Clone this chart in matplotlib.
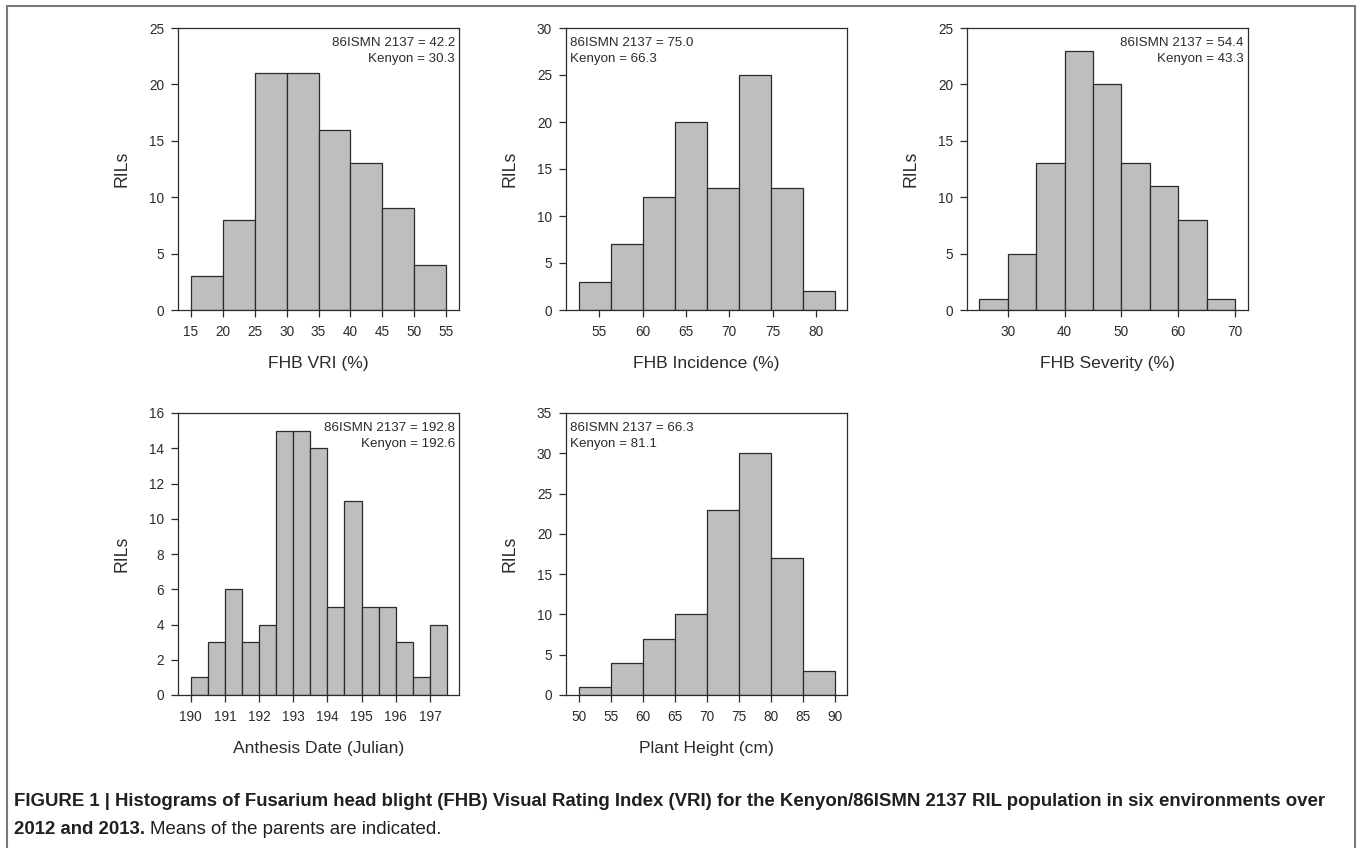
import numpy as np
import matplotlib
matplotlib.use("Agg")
import matplotlib.pyplot as plt
from matplotlib.patches import Rectangle

plt.rcParams['font.family'] = ['Liberation Sans', 'DejaVu Sans']

# histogram data (bin edges + counts per bin)
vri_edges = [15, 20, 25, 30, 35, 40, 45, 50, 55]
vri_counts = [3, 8, 21, 21, 16, 13, 9, 4]

inc_edges = [52.6, 56.3, 60.0, 63.7, 67.4, 71.1, 74.8, 78.5, 82.2]
inc_counts = [3, 7, 12, 20, 13, 25, 13, 2]

sev_edges = [25, 30, 35, 40, 45, 50, 55, 60, 65, 70]
sev_counts = [1, 5, 13, 23, 20, 13, 11, 8, 1]

ant_edges = [190, 190.5, 191, 191.5, 192, 192.5, 193, 193.5, 194,
             194.5, 195, 195.5, 196, 196.5, 197, 197.5]
ant_counts = [1, 3, 6, 3, 4, 15, 15, 14, 5, 11, 5, 5, 3, 1, 4]

ht_edges = [50, 55, 60, 65, 70, 75, 80, 85, 90]
ht_counts = [1, 4, 7, 10, 23, 30, 17, 3]

xlabels = ['FHB VRI (%)', 'FHB Incidence (%)', 'FHB Severity (%)',
           'Anthesis Date (Julian)', 'Plant Height (cm)']
notes = ['86ISMN 2137 = 42.2\nKenyon = 30.3',
         '86ISMN 2137 = 75.0\nKenyon = 66.3',
         '86ISMN 2137 = 54.4\nKenyon = 43.3',
         '86ISMN 2137 = 192.8\nKenyon = 192.6',
         '86ISMN 2137 = 66.3\nKenyon = 81.1']
note_side = ['right', 'left', 'right', 'right', 'left']

xticks = [np.arange(15, 56, 5), np.arange(55, 81, 5), np.arange(30, 71, 10),
          np.arange(190, 198, 1), np.arange(50, 91, 5)]
yticks = [np.arange(0, 26, 5), np.arange(0, 31, 5), np.arange(0, 26, 5),
          np.arange(0, 17, 2), np.arange(0, 36, 5)]
xlims = [(13.0, 57.0), (51.15, 83.6), (22.8, 72.3), (189.63, 197.85), (47.95, 91.95)]

data = [(vri_edges, vri_counts), (inc_edges, inc_counts), (sev_edges, sev_counts),
        (ant_edges, ant_counts), (ht_edges, ht_counts)]

W, H = 1357, 848
fig = plt.figure(figsize=(W / 100, H / 100), dpi=100)

ink = '#2b2b2b'
col_left = [178, 566, 967]
row_top = [28, 413]
aw, ah = 281, 282

for i, (edges, counts) in enumerate(data):
    r, c = divmod(i, 3)
    ax = fig.add_axes([col_left[c] / W, 1 - (row_top[r] + ah) / H, aw / W, ah / H])
    edges = np.array(edges)
    ax.bar(edges[:-1], counts, width=np.diff(edges), align='edge',
           color='#bebebe', edgecolor=ink, linewidth=0.9)
    ax.set_xlim(*xlims[i])
    ax.set_ylim(0, yticks[i][-1])
    ax.set_xticks(xticks[i])
    ax.set_yticks(yticks[i])
    for s in ax.spines.values():
        s.set_color(ink)
        s.set_linewidth(0.9)
    ax.tick_params(axis='both', direction='out', length=5, width=0.9, color=ink,
                   labelsize=9.8, labelcolor=ink)
    ax.tick_params(axis='x', pad=5.5)
    ax.tick_params(axis='y', pad=5)
    ax.set_xlabel(xlabels[i], fontsize=12.6, color=ink, labelpad=12.5)
    ax.set_ylabel('RILs', fontsize=12.7, color=ink, labelpad=13.5)
    if note_side[i] == 'right':
        ax.text(0.985, 0.968, notes[i], transform=ax.transAxes, ha='right', va='top',
                fontsize=9.6, color=ink, linespacing=1.45)
    else:
        ax.text(0.015, 0.968, notes[i], transform=ax.transAxes, ha='left', va='top',
                fontsize=9.6, color=ink, linespacing=1.45)

# outer frame
fig.add_artist(Rectangle((7 / W, -0.05), (1355 - 7) / W, 1.05 - 6 / H,
                         transform=fig.transFigure, fill=False,
                         edgecolor='#7a7a7a', linewidth=1.5))

# caption
cap_color = '#231f20'
fig.text(14 / W, 1 - 801 / H,
         'FIGURE 1 | Histograms of Fusarium head blight (FHB) Visual Rating Index (VRI) '
         'for the Kenyon/86ISMN 2137 RIL population in six environments over',
         fontsize=13.4, fontweight='bold', color=cap_color, va='center', ha='left')
t2 = fig.text(14 / W, 1 - 830 / H, '2012 and 2013.', fontsize=13.4, fontweight='bold',
              color=cap_color, va='center', ha='left')
fig.canvas.draw()
bb = t2.get_window_extent()
fig.text((bb.x1 + 5) / W, 1 - 830 / H, 'Means of the parents are indicated.',
         fontsize=13.4, color=cap_color, va='center', ha='left')

fig.savefig('out.png', dpi=100)
